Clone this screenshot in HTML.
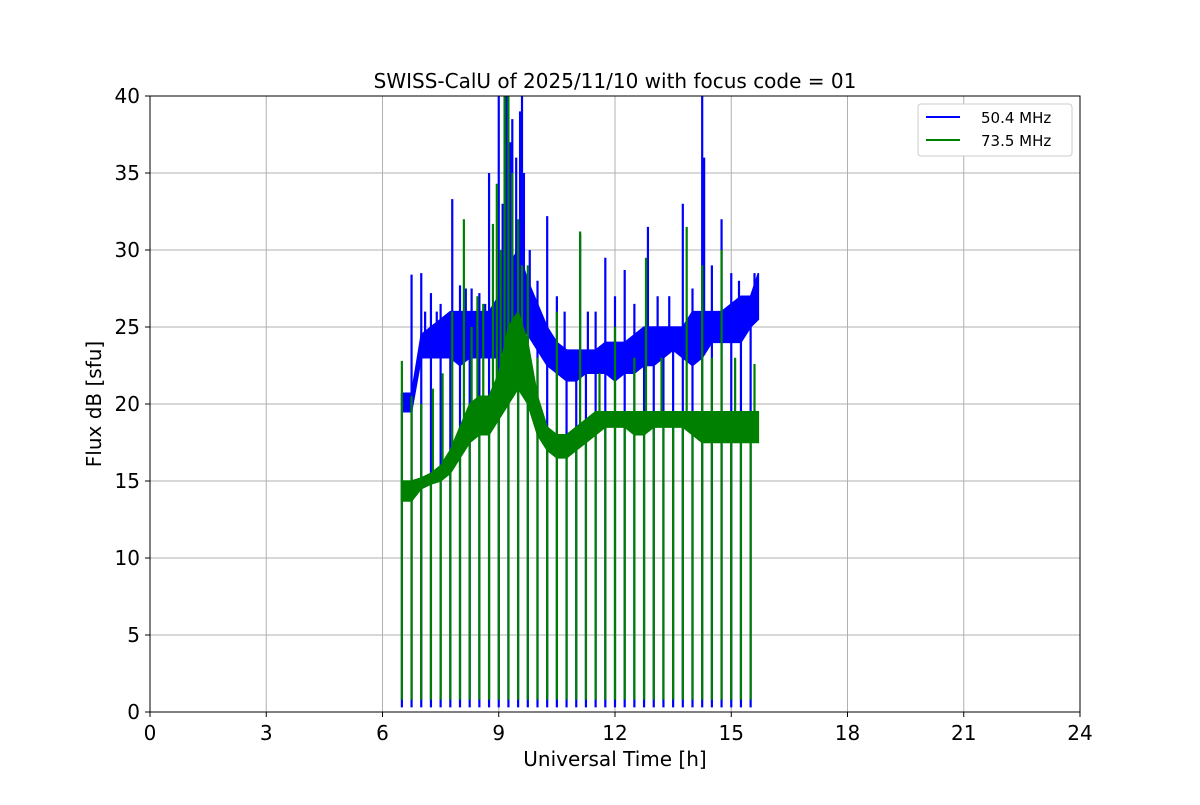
<!DOCTYPE html>
<html><head><meta charset="utf-8"><style>
body{margin:0;background:#fff;}
svg text{font-family:"DejaVu Sans","Liberation Sans",sans-serif;}
</style></head><body>
<svg id="chart" width="1200" height="800" xmlns="http://www.w3.org/2000/svg">
<rect width="1200" height="800" fill="#fff"/>
<g id="grid"></g><g id="series"></g><g id="axes"></g>
<text x="615" y="88" font-size="20" text-anchor="middle">SWISS-CalU of 2025/11/10 with focus code = 01</text>
<text x="615" y="766" font-size="20" text-anchor="middle">Universal Time [h]</text>
<text x="101" y="404" font-size="20" text-anchor="middle" transform="rotate(-90 101 404)">Flux dB [sfu]</text>
<g>
<rect x="918" y="104" width="154" height="52" fill="#fff" stroke="#ccc" rx="3"/>
<line x1="926" y1="117" x2="960" y2="117" stroke="#0000ff" stroke-width="2"/>
<text x="981" y="123" font-size="15">50.4 MHz</text>
<line x1="926" y1="140" x2="960" y2="140" stroke="#008000" stroke-width="2"/>
<text x="981" y="146" font-size="15">73.5 MHz</text>
</g>
</svg>
<script>
const times=[6.5,6.75,7,7.25,7.5,7.75,8,8.25,8.5,8.75,9,9.25,9.5,9.75,10,10.25,10.5,10.75,11,11.25,11.5,11.75,12,12.25,12.5,12.75,13,13.25,13.5,13.75,14,14.25,14.5,14.75,15,15.25,15.5,15.7];
const blueLo=[19.5,19.5,23,23,23,23,22.5,23,23,23,23,24,25,24.5,23.5,22.5,22,21.5,21.5,22,22,22,21.5,22,22,22.5,22.5,23,23.5,23,22.5,23,24,24,24,24,25,25.5];
const blueHi=[20.7,20.7,24.5,25,25.5,26,26,26,26,26,27,29,30,28,26.5,25,24,23.5,23.5,23.5,23.5,24,24,24,24.5,25,25,25,25,25,26,26,26,26,26.5,27,27,28.5];
const greenLo=[13.7,13.7,14.5,14.8,15,15.5,16.5,17.5,18,18,19,20,21,20,18,17,16.5,16.5,17,17.5,18,18.5,18.5,18.5,18,18,18.5,18.5,18.5,18.5,18,17.5,17.5,17.5,17.5,17.5,17.5,17.5];
const greenHi=[15,15,15.2,15.5,16,17,18.5,20,20.5,20.5,22,25,26,24,20.5,18.5,18,18,18.5,19,19.5,19.5,19.5,19.5,19.5,19.5,19.5,19.5,19.5,19.5,19.5,19.5,19.5,19.5,19.5,19.5,19.5,19.5];
const blueSpikeT=[6.75,7.0,7.1,7.25,7.4,7.5,7.8,8.0,8.15,8.3,8.5,8.65,8.75,9.0,9.1,9.2,9.3,9.35,9.45,9.55,9.6,9.65,9.8,10.0,10.25,10.5,10.7,11.1,11.3,11.5,11.75,12.0,12.25,12.5,12.85,13.1,13.4,13.75,14.0,14.25,14.3,14.5,14.75,15.0,15.2,15.6];
const blueSpikeV=[28.4,28.5,26,27.2,26,26.5,33.3,27.7,27.5,27.5,27.2,26.5,35,40,33,40,37,38.5,36,39,40,35,30,28,32.2,27,26,31,26,26,29.5,27,28.7,26.5,31.5,27,27,33,27.5,40,36,29,32,28.5,28,28.5];
const greenSpikeT=[6.5,6.75,7.0,7.3,7.55,7.8,8.1,8.3,8.45,8.6,8.85,8.95,9.05,9.15,9.25,9.35,9.5,9.6,9.75,10.0,10.5,11.1,11.6,12.0,12.5,12.8,13.2,13.85,14.25,14.5,14.75,15.1,15.6];
const greenSpikeV=[22.8,20.5,20,21,22,26,32,25,27,26.5,31.7,34.3,30,40,40,35,32,29,29,23,26,31.2,22,25,23,29.5,23,31.5,29,23,30,23,22.6];
const dipStart=6.5, dipStep=0.25, dipCount=37, blueDipLevel=0.3, greenDipLevel=0.8;
const xTicks=[0,3,6,9,12,15,18,21,24];
const yTicks=[0,5,10,15,20,25,30,35,40];

const X=t=>150+t/24*930, Y=v=>712-v/40*616;
const NS='http://www.w3.org/2000/svg';
function mk(tag,attrs,parent){const e=document.createElementNS(NS,tag);for(const k in attrs)e.setAttribute(k,attrs[k]);parent.appendChild(e);return e;}
const grid=document.getElementById('grid'),ser=document.getElementById('series'),ax=document.getElementById('axes');
xTicks.forEach(t=>{
 const l=mk('line',{x1:X(t),x2:X(t),y1:96,y2:712,stroke:'#b0b0b0','stroke-width':1},grid);
 
 
 mk('line',{x1:X(t),x2:X(t),y1:712,y2:717,stroke:'#000'},ax);
 const tx=mk('text',{x:X(t),y:740,'font-size':20,'text-anchor':'middle'},ax);tx.textContent=t;
 
 
});
yTicks.forEach(v=>{
 const l=mk('line',{x1:150,x2:1080,y1:Y(v),y2:Y(v),stroke:'#b0b0b0','stroke-width':1},grid);
 
 
 mk('line',{x1:145,x2:150,y1:Y(v),y2:Y(v),stroke:'#000'},ax);
 const tx=mk('text',{x:140,y:Y(v)+7,'font-size':20,'text-anchor':'end'},ax);tx.textContent=v;
 
 
});
const fr=mk('rect',{x:150,y:96,width:930,height:616,fill:'none',stroke:'#000','stroke-width':1},ax);



function series(lo,hi,spT,spV,color,name,dipLevel){
 const g=mk('g',{},ser);
 
 
 let pts=times.map((t,i)=>X(t)+','+Y(hi[i]));
 for(let i=times.length-1;i>=0;i--)pts.push(X(times[i])+','+Y(lo[i]));
 mk('polygon',{points:pts.join(' '),fill:color,stroke:color,'stroke-width':1.5},g);
 const interp=(arr,t)=>{for(let i=0;i<times.length-1;i++){if(t<=times[i+1]){const f=(t-times[i])/(times[i+1]-times[i]);return arr[i]+f*(arr[i+1]-arr[i]);}}return arr[arr.length-1];};
 for(let k=0;k<dipCount;k++){const t=dipStart+k*dipStep;
  const d=mk('line',{x1:X(t),x2:X(t),y1:Y(interp(hi,t)),y2:Y(dipLevel),stroke:color,'stroke-width':2.2},g);
  
  }
 spT.forEach((t,i)=>{
  const s=mk('line',{x1:X(t),x2:X(t),y1:Y(interp(lo,t)),y2:Y(Math.min(spV[i],40)),stroke:color,'stroke-width':2.2},g);
  
  });
}
series(blueLo,blueHi,blueSpikeT,blueSpikeV,'#0000ff','series-50mhz',blueDipLevel);
series(greenLo,greenHi,greenSpikeT,greenSpikeV,'#008000','series-73mhz',greenDipLevel);
</script>
</body></html>
